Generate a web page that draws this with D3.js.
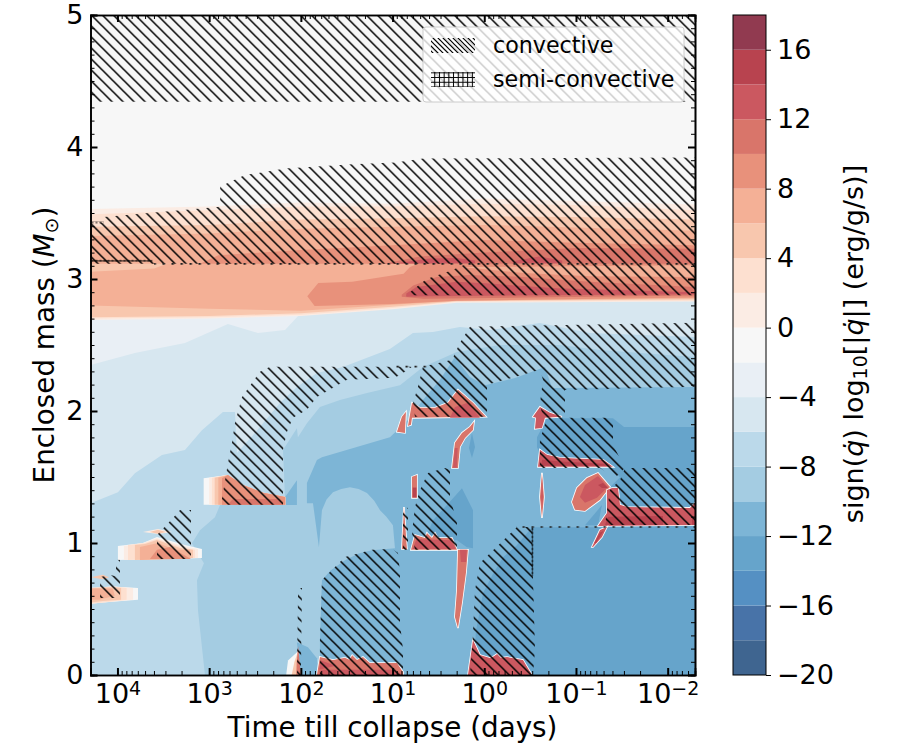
<!DOCTYPE html>
<html>
<head>
<meta charset="utf-8">
<script src="https://d3js.org/d3.v7.min.js"></script>
<style>
body { margin: 0; background: #fff; }
text { font-family: "DejaVu Sans", sans-serif; fill: #000; }
</style>
</head>
<body>
<div id="chart"></div>
<script>
// colour bands: each level is the lower edge of a 2 dex bin
var levels = d3.range(-20, 18, 2);
var bandColors = ["#3f6590", "#4873a8", "#5590c3", "#66a4cb", "#7db5d6", "#a4cce2", "#bbd9ea", "#d7e7f0", "#e9eff5", "#f7f7f7",
                  "#fbece4", "#fde0d0", "#f8c7ae", "#f4b096", "#e8917b", "#d9756a", "#cb5860", "#b8434f", "#913a50"];
var xDecades = [1e4, 1e3, 1e2, 1e1, 1e0, 1e-1, 1e-2];
var yTicks = [0, 1, 2, 3, 4, 5];
var cbarTicks = [-20, -16, -12, -8, -4, 0, 4, 8, 12, 16];
var logMin = 4.294, logMax = -2.298;

// all outlines below are [log10(days), enclosed mass]
var envelope = [
  [-2, [[4.294,2.5],[-2.298,2.5],[-2.298,5],[4.294,5]]],
  [-6, [[4.294,0],[-2.298,0],[-2.298,2.9],[4.294,2.9]]],
  [-4, [[4.294,2.348],[3.81,2.439],[3.264,2.515],[2.795,2.659],[2.468,2.591],[2.173,2.613],[2.03,2.72],[2.03,2.85],[4.294,2.85]]]
];

var coolingBands = [
  [-8, [[4.294,1.302],[3.995,1.385],[3.81,1.529],[3.515,1.666],[3.264,1.704],[3.079,1.855],[2.85,1.992],[2.719,1.992],[2.697,1.681],[2.522,1.817],[2.228,2.06],[2.043,2.181],[1.825,2.287],[1.541,2.333],[1.029,2.469],[0.778,2.591],[0.56,2.598],[0.265,2.636],[-0.062,2.613],[-0.607,2.666],[-1.153,2.59],[-2.298,2.56],[-2.298,0],[4.294,0]]],
  [-10, [[3.046,0],[3.122,0.49],[3.133,0.718],[3.057,0.847],[3.188,0.998],[3.1,1.097],[2.937,1.196],[2.882,1.287],[2.173,1.287],[2.173,1.347],[2.195,1.704],[2.043,1.87],[2.032,1.802],[1.934,1.908],[1.792,2.03],[1.574,2.083],[1.279,2.136],[0.919,2.196],[0.669,2.333],[0.299,2.447],[-0.171,2.5],[-0.825,2.5],[-1.262,2.462],[-2.298,2.409],[-2.298,0]]],
  [-12, [[1.792,0],[1.792,0.263],[1.77,0.718],[1.68,0.79],[1.519,0.87],[1.37,0.92],[1.225,0.946],[0.974,0.961],[0.996,1.135],[1.07,1.2],[1.137,1.249],[1.2,1.32],[1.279,1.378],[1.37,1.41],[1.465,1.423],[1.56,1.41],[1.65,1.385],[1.72,1.33],[1.77,1.249],[1.803,0.968],[1.868,1.302],[1.934,1.302],[1.934,1.454],[1.825,1.628],[1.77,1.65],[1.029,1.802],[0.832,1.931],[0.669,2.083],[0.484,2.234],[0.32,2.409],[0.156,2.257],[-0.008,2.196],[-0.335,2.25],[-0.662,2.333],[-0.739,2.174],[-2.298,2.182],[-2.298,0]]],
  [-12, [[2.043,0.248],[1.923,0.21],[1.825,0.127],[1.813,0],[2.01,0]]],
  [-12, [[2.173,1.347],[2.043,1.476],[2.043,1.287],[2.173,1.287]]],
  [-14, [[0.125,0],[0.09,0.339],[0.05,0.48],[0.014,0.619],[-0.09,0.76],[-0.204,0.892],[-0.35,0.98],[-0.52,1.12],[-2.298,1.12],[-2.298,0]]],
  [-14, [[-0.575,1.802],[-0.684,1.946],[-1.404,1.946],[-1.524,1.878],[-2.298,1.878],[-2.298,1.11],[-1.3,1.11],[-1.338,1.4],[-1.48,1.499],[-1.371,1.567],[-0.607,1.681],[-0.575,1.726]]],
  [-14, [[0.243,1.415],[0.123,1.249],[0.123,0.961],[0.189,0.968],[0.298,1.021],[0.647,1.021],[0.56,1.173],[0.407,1.287]]],
  [-14, [[0.134,1.833],[0.101,1.727],[0.134,1.643],[0.167,1.72]]],
  [-14, [[-1.098,1.135],[-1.283,1.287],[-1.24,1.135]]]
];

var shellBands = [
  [0, [[4.294,3.53],[3,3.55],[2,3.58],[1,3.57],[0,3.61],[-1,3.59],[-2.298,3.565],[-2.298,2.83],[0.3,2.82],[1,2.77],[2,2.72],[3,2.7],[4.294,2.69]]],
  [2, [[4.294,3.49],[3,3.52],[2,3.55],[1,3.55],[0,3.57],[-1,3.56],[-2.298,3.52],[-2.298,2.835],[0.3,2.827],[1,2.78],[2,2.73],[3,2.71],[4.294,2.7]]],
  [4, [[4.294,3.395],[3,3.41],[2,3.45],[1,3.46],[0,3.475],[-1,3.47],[-2.298,3.45],[-2.298,2.845],[0.3,2.832],[1,2.79],[2,2.74],[3,2.72],[4.294,2.71]]],
  [6, [[4.294,3.325],[3,3.345],[2,3.38],[1,3.395],[0,3.41],[-1,3.39],[-2.298,3.365],[-2.298,3.115],[4.294,3.115]]],
  [6, [[4.294,3.055],[3.6,3.08],[3.46,3.115],[-2.298,3.115],[-2.298,2.852],[0.3,2.835],[1,2.805],[2,2.76],[3,2.775],[4.294,2.8]]],
  [8, [[3.1,3.115],[2.9,3.18],[2,3.22],[1,3.255],[0,3.295],[-1,3.275],[-2.298,3.255],[-2.298,3.115]]],
  [8, [[1.93,2.87],[1.81,2.97],[1.44,2.98],[0.97,3.03],[0.88,3.04],[0.81,3.09],[0.72,3.115],[-2.298,3.115],[-2.298,2.86],[0.3,2.835],[1,2.81],[1.85,2.795]]],
  [6, [[0.25,3.09],[-2.298,3.105],[-2.298,3.015],[-1.16,3.02],[-0.43,3.045]]],
  [10, [[1.1,3.115],[0.7,3.17],[0,3.2],[-1,3.235],[-2.298,3.23],[-2.298,3.115]]],
  [12, [[0.95,3.12],[0.6,3.155],[0.3,3.16],[0.1,3.14],[0.1,3.12]]],
  [12, [[-0.3,3.12],[-0.35,3.14],[-0.6,3.17],[-0.85,3.14],[-0.85,3.12]]],
  [10, [[0.9,2.865],[0.9,2.88],[0.775,2.95],[0.52,3.016],[0.156,3.03],[-0.425,3.016],[-1.15,2.98],[-2.298,2.94],[-2.298,2.875],[0.665,2.85]]],
  [12, [[0.85,2.865],[0.85,2.89],[0.74,2.94],[0.3,2.98],[-0.06,2.965],[-0.79,2.93],[-2.298,2.9],[-2.298,2.885],[0.6,2.87]]]
];

// the soft-edged shell flashes on the left side, outer band first
var flashBands = [
  [-2, [[4.294,0.54],[4.294,0.66],[4.05,0.67],[3.776,0.66],[3.776,0.57],[4.158,0.55]]],
  [0, [[4.294,0.54],[4.294,0.66],[4.05,0.67],[3.83,0.66],[3.83,0.57],[4.158,0.55]]],
  [2, [[4.294,0.54],[4.294,0.66],[4.05,0.67],[3.9,0.66],[3.9,0.57],[4.158,0.55]]],
  [4, [[4.294,0.55],[4.294,0.66],[4.05,0.665],[3.96,0.66],[3.96,0.57],[4.158,0.56]]],
  [6, [[4.294,0.57],[4.294,0.655],[4.05,0.655],[4.03,0.6],[4.2,0.57]]],
  [4, [[4.29,0.74],[4.16,0.76],[4.09,0.74],[4.16,0.725]]],
  [-2, [[3.995,0.872],[3.995,0.978],[3.722,1],[3.569,1.046],[3.264,0.985],[3.079,0.955],[3.079,0.887]]],
  [0, [[3.93,0.872],[3.93,0.978],[3.722,1],[3.569,1.038],[3.286,0.978],[3.122,0.955],[3.122,0.887]]],
  [2, [[3.885,0.872],[3.885,0.985],[3.7,1],[3.569,1.03],[3.3,0.97],[3.155,0.948],[3.155,0.887]]],
  [4, [[3.81,0.872],[3.81,0.985],[3.7,0.993],[3.569,1.023],[3.318,0.963],[3.177,0.948],[3.177,0.887]]],
  [6, [[3.755,0.872],[3.755,0.97],[3.558,1],[3.373,0.948],[3.209,0.948],[3.209,0.88]]],
  [8, [[3.646,0.879],[3.569,0.948],[3.427,0.97],[3.198,0.879]]],
  [0, [[3.722,1.084],[3.558,1.107],[3.406,1.084],[3.558,1.069]]],
  [4, [[3.65,1.084],[3.558,1.1],[3.47,1.084],[3.558,1.07]]],
  [-2, [[3.06,1.289],[3.06,1.49],[2.795,1.516],[2.631,1.44],[2.413,1.38],[2.17,1.349],[2.17,1.289]]],
  [0, [[3,1.289],[3,1.495],[2.795,1.516],[2.631,1.44],[2.413,1.38],[2.17,1.349],[2.17,1.289]]],
  [2, [[2.97,1.289],[2.97,1.495],[2.795,1.516],[2.631,1.44],[2.413,1.38],[2.17,1.349],[2.17,1.289]]],
  [4, [[2.94,1.289],[2.94,1.495],[2.795,1.516],[2.631,1.44],[2.413,1.38],[2.17,1.349],[2.17,1.289]]],
  [6, [[2.9,1.289],[2.9,1.495],[2.795,1.516],[2.631,1.44],[2.413,1.38],[2.17,1.349],[2.17,1.289]]],
  [8, [[2.86,1.289],[2.86,1.49],[2.795,1.516],[2.631,1.44],[2.413,1.38],[2.17,1.349],[2.17,1.289]]],
  [10, [[2.8,1.289],[2.74,1.334],[2.23,1.334],[2.2,1.289]]],
  [-2, [[2.16,0],[2.14,0.11],[2.03,0.18],[2,0]]],
  [4, [[2.1,0],[2.07,0.1],[2.03,0.18],[2,0]]],
  [10, [[2.05,0],[2.045,0.1],[2.03,0.22],[2,0]]]
];

// hot pockets that carry a white rim against the blue
var burnRims = [
  [10, [[0.832,1.887],[0.788,2.062],[0.701,2.024],[0.537,2.024],[0.396,2.062],[0.287,2.161],[0.123,2.062],[-0.019,1.956],[0.788,1.948],[0.799,1.895]]],
  [10, [[0.952,1.842],[0.898,1.956],[0.854,1.994],[0.865,1.834]]],
  [10, [[0.352,1.569],[0.32,1.759],[0.243,1.834],[0.156,1.88],[0.112,1.918],[0.123,1.857],[0.21,1.796],[0.265,1.728],[0.287,1.569]]],
  [10, [[0.788,1.501],[0.734,1.516],[0.734,1.342],[0.788,1.342]]],
  [10, [[0.898,0.955],[0.876,1.273],[0.843,0.955]]],
  [10, [[0.799,0.948],[0.756,1.061],[0.647,1.038],[0.625,1.076],[0.57,1.038],[0.537,1.076],[0.505,1.038],[0.352,1.038],[0.298,0.948]]],
  [10, [[0.287,0.948],[0.178,0.948],[0.2,0.773],[0.243,0.546],[0.287,0.356],[0.32,0.44],[0.298,0.644]]],
  [12, [[0.178,0],[0.123,0.265],[0.047,0.152],[-0.062,0.129],[-0.1,0.14],[-0.14,0.159],[-0.18,0.13],[-0.248,0.136],[-0.422,0.114],[-0.52,0]]],
  [10, [[1.825,0],[1.792,0.136],[1.65,0.114],[1.52,0.13],[1.47,0.115],[1.44,0.15],[1.388,0.114],[1.323,0.136],[1.247,0.091],[0.952,0.091],[0.886,0.023],[0.886,0]]],
  [12, [[-0.531,1.956],[-0.607,2.031],[-0.716,1.986],[-0.847,1.956],[-0.662,1.948],[-0.629,1.872],[-0.553,1.865],[-0.564,1.948]]],
  [12, [[-0.586,1.577],[-0.607,1.706],[-0.684,1.668],[-0.826,1.645],[-1.295,1.63],[-1.404,1.577]]],
  [10, [[-0.607,1.349],[-0.629,1.531],[-0.651,1.349],[-0.629,1.19]]],
  [10, [[-0.956,1.311],[-1.01,1.417],[-1.12,1.493],[-1.24,1.531],[-1.371,1.425],[-1.262,1.327],[-1.098,1.243],[-0.989,1.251]]],
  [12, [[-1.24,1.129],[-1.338,1.228],[-1.338,1.402],[-1.393,1.417],[-1.458,1.417],[-1.48,1.289],[-1.556,1.273],[-2.243,1.266],[-2.298,1.304],[-2.298,1.137]]],
  [12, [[-1.175,0.97],[-1.262,1.099],[-1.338,1.122],[-1.283,1.046],[-1.186,0.97]]]
];

var burnCores = [
  [12, [[0.374,1.948],[0.32,2.031],[0.178,2.062],[0.047,1.948]]],
  [12, [[0.34,1.57],[0.32,1.72],[0.29,1.72],[0.3,1.57]]],
  [14, [[0.78,1.42],[0.74,1.42],[0.74,1.345],[0.78,1.345]]],
  [12, [[0.78,0.955],[0.74,1.03],[0.36,1.02],[0.31,0.955]]],
  [12, [[0.265,0.948],[0.19,0.948],[0.2,0.857],[0.255,0.857]]],
  [12, [[1.8,0],[1.78,0.04],[0.98,0.04],[0.89,0]]],
  [12, [[1.8,0.04],[1.78,0.11],[1.62,0.07]]],
  [14, [[-0.62,1.585],[-0.63,1.63],[-0.8,1.62],[-1.3,1.6],[-1.35,1.585]]],
  [12, [[-0.62,1.35],[-0.63,1.5],[-0.64,1.35],[-0.63,1.25]]],
  [12, [[-1.043,1.349],[-1.098,1.44],[-1.24,1.508],[-1.349,1.425],[-1.229,1.342],[-1.098,1.304]]],
  [14, [[-1.24,1.44],[-1.295,1.455],[-1.349,1.417],[-1.283,1.417]]],
  [14, [[-1.316,1.137],[-1.349,1.198],[-1.949,1.205],[-1.949,1.137]]],
  [14, [[-2.265,1.198],[-2.298,1.198],[-2.298,1.137],[-2.265,1.137]]],
  [14, [[-1.2,1],[-1.262,1.08],[-1.3,1.09],[-1.22,1]]]
];

var convective = [
  [[4.294,4.343],[-2.298,4.343],[-2.298,5],[4.294,5]],
  [[4.294,3.115],[4.294,3.42],[4.15,3.43],[4.15,3.47],[2.88,3.547],[2.88,3.7],[2.61,3.787],[2.17,3.837],[1.44,3.87],[0.97,3.883],[0.665,3.913],[-2.298,3.92],[-2.298,3.115]],
  [[0.85,2.877],[0.63,3],[0.375,3.06],[0.19,3.115],[-2.298,3.115],[-2.298,2.877]],
  [[2.871,1.289],[2.795,1.607],[2.751,1.759],[2.719,1.91],[2.642,2.107],[2.446,2.297],[2.337,2.335],[0.788,2.335],[0.865,2.297],[0.974,2.251],[1.497,2.236],[1.825,2.107],[1.934,2.009],[2.086,1.948],[2.151,1.842],[2.195,1.706],[2.195,1.289]],
  [[0.669,2.335],[0.352,2.388],[0.265,2.517],[0.156,2.638],[-2.298,2.668],[-2.298,2.183],[-0.88,2.16],[-0.88,1.948],[-0.64,1.948],[-0.607,2.054],[-0.64,2.236],[-0.607,2.312],[-0.03,2.198],[-0.03,1.956],[0.756,1.956],[0.777,2.062],[0.723,2.183]],
  [[-0.684,1.948],[-1.404,1.948],[-1.404,1.743],[-1.534,1.569],[-1.425,1.493],[-1.262,1.569],[-0.607,1.569],[-0.607,1.781]],
  [[-1.534,1.569],[-2.298,1.569],[-2.298,1.137],[-1.316,1.137],[-1.371,1.402],[-1.48,1.478]],
  [[0.614,1.531],[0.429,1.569],[0.374,1.554],[0.374,1.349],[0.298,1.152],[0.298,0.948],[0.756,0.948],[0.788,1.076],[0.756,1.273],[0.701,1.402]],
  [[0.886,1.266],[0.832,1.266],[0.832,0.948],[0.886,0.948]],
  [[1.792,0],[1.792,0.265],[1.77,0.72],[1.519,0.894],[1.225,0.948],[1.007,0.955],[0.941,0.925],[0.919,0.773],[0.919,0.394],[0.886,0.19],[0.886,0]],
  [[0.156,0],[0.123,0.318],[0.101,0.644],[0.047,0.849],[-0.357,1.122],[-0.52,1.122],[-0.52,1.023],[-0.553,0.19],[-0.531,0]],
  [[2.03,0.659],[1.988,0.659],[2,0],[2.043,0]],
  [[3.569,1.061],[3.395,1.19],[3.318,1.25],[3.198,1.25],[3.198,0.879],[3.569,0.879]],
  [[4.19,0.743],[4.082,0.758],[3.973,0.743],[3.973,0.584],[4.19,0.584]],
  [[4.016,0.872],[3.973,0.872],[3.973,0.75],[4.016,0.75]]
];

// thin semi-convective layers: solid grid where wide enough, dashes where only a sliver
var semiConvective = [
  [[4.294,3.13],[3.62,3.13],[3.62,3.145],[4.294,3.145]],
  [[4.294,3.42],[4.15,3.42],[4.15,3.435],[4.294,3.435]],
  [[-0.515,1.12],[-0.535,1.12],[-0.535,0.75],[-0.515,0.75]]
];
var semiSlivers = [
  [[3.6,3.108],[-2.298,3.108],[-2.298,3.122],[3.6,3.122]],
  [[-0.35,1.115],[-2.298,1.115],[-2.298,1.127],[-0.35,1.127]],
  [[1,2.33],[0.6,2.33],[0.6,2.342],[1,2.342]]
];

var margin = {top: 15, left: 90.5},
    width = 604.5,
    height = 660;

var svg = d3.select("#chart")
    .append("svg")
    .attr("width", 900)
    .attr("height", 750);

var defs = svg.append("defs");

function hatchPattern(id, size, strokeW, dx) {
    var p = defs.append("pattern")
        .attr("id", id)
        .attr("patternUnits", "userSpaceOnUse")
        .attr("width", size).attr("height", size)
        .attr("patternTransform", "translate(" + dx + ",0)");
    p.append("path")
        .attr("d", "M-2,-2L" + (size + 2) + "," + (size + 2) + "M" + (size - 2) + ",-2L" + (size + 2) + ",2M-2," + (size - 2) + "L2," + (size + 2))
        .attr("stroke", "#000").attr("stroke-width", strokeW).attr("fill", "none");
}
hatchPattern("hatchConv", 11, 1.5, 0.8);
hatchPattern("hatchLegend", 5, 1.2, 0);

function gridPattern(id, size, strokeW) {
    var p = defs.append("pattern")
        .attr("id", id)
        .attr("patternUnits", "userSpaceOnUse")
        .attr("width", size).attr("height", size);
    p.append("path")
        .attr("d", "M0," + size / 2 + "H" + size + "M" + size / 2 + ",0V" + size)
        .attr("stroke", "#000").attr("stroke-width", strokeW).attr("fill", "none");
}
gridPattern("hatchSemi", 4, 1);
gridPattern("hatchSemiKey", 4.7, 1);

var dashes = defs.append("pattern")
    .attr("id", "hatchDash")
    .attr("patternUnits", "userSpaceOnUse")
    .attr("width", 9).attr("height", 9);
dashes.append("rect").attr("width", 2.4).attr("height", 9).attr("fill", "#222");

var g = svg.append("g").attr("transform", "translate(" + margin.left + "," + margin.top + ")");

var xScale = d3.scaleLog()
    .domain([Math.pow(10, logMin), Math.pow(10, logMax)])
    .range([0, width]);
var yScale = d3.scaleLinear()
    .domain([0, 5])
    .range([height, 0]);
var color = d3.scaleOrdinal(levels, bandColors);

var outline = d3.line()
    .x(function(d) { return xScale(Math.pow(10, d[0])); })
    .y(function(d) { return yScale(d[1]); })
    .curve(d3.curveLinearClosed);

function drawBands(rows, rim) {
    g.append("g").selectAll("path")
        .data(rows)
        .enter()
        .append("path")
        .attr("d", function(d) { return outline(d[1]); })
        .attr("fill", function(d) { return color(d[0]); })
        .attr("stroke", rim ? "#fff" : "none")
        .attr("stroke-width", rim ? 1.6 : 0)
        .attr("paint-order", "stroke");
}
drawBands(envelope, false);
drawBands(coolingBands, false);
drawBands(shellBands, false);
drawBands(flashBands, false);
drawBands(burnRims, true);
drawBands(burnCores, false);

function drawHatch(rows, fill) {
    g.append("g").selectAll("path")
        .data(rows)
        .enter()
        .append("path")
        .attr("d", outline)
        .attr("fill", fill);
}
drawHatch(convective, "url(#hatchConv)");
drawHatch(semiConvective, "url(#hatchSemi)");
drawHatch(semiSlivers, "url(#hatchDash)");

// axes, ticks point inward on all four sides
var xMinor = [];
xDecades.concat([1e-3]).forEach(function(dec) {
    d3.range(2, 10).forEach(function(k) {
        var v = dec * k;
        if (v < Math.pow(10, logMin) && v > Math.pow(10, logMax)) xMinor.push(v);
    });
});
var yMinor = d3.range(0, 5.01, 0.1);

function styleAxis(sel, w) {
    sel.selectAll(".tick line").attr("stroke", "#000").attr("stroke-width", w);
    sel.selectAll(".domain").attr("stroke", "#000").attr("stroke-width", 1.6);
}

var xBottom = g.append("g").attr("transform", "translate(0," + height + ")")
    .call(d3.axisBottom(xScale).tickValues(xDecades).tickSize(-7).tickPadding(9).tickFormat(""));
styleAxis(xBottom, 2);
xBottom.selectAll(".tick text")
    .data(xDecades)
    .attr("font-size", 27)
    .attr("text-anchor", "middle")
    .each(function(d) {
        var t = d3.select(this);
        t.append("tspan").text("10");
        t.append("tspan").attr("dy", "-0.42em").attr("font-size", 19).text(Math.round(Math.log10(d)).toString().replace("-", "\u2212"));
    });
styleAxis(g.append("g").attr("transform", "translate(0," + height + ")")
    .call(d3.axisBottom(xScale).tickValues(xMinor).tickSize(-4).tickFormat("")), 1);
styleAxis(g.append("g")
    .call(d3.axisTop(xScale).tickValues(xDecades).tickSize(-7).tickFormat("")), 2);
styleAxis(g.append("g")
    .call(d3.axisTop(xScale).tickValues(xMinor).tickSize(-4).tickFormat("")), 1);

var yLeft = g.append("g")
    .call(d3.axisLeft(yScale).tickValues(yTicks).tickSize(-7).tickPadding(7).tickFormat(d3.format("d")));
styleAxis(yLeft, 2);
yLeft.selectAll(".tick text").attr("font-size", 27);
styleAxis(g.append("g")
    .call(d3.axisLeft(yScale).tickValues(yMinor).tickSize(-4).tickFormat("")), 1);
styleAxis(g.append("g").attr("transform", "translate(" + width + ",0)")
    .call(d3.axisRight(yScale).tickValues(yTicks).tickSize(-7).tickFormat("")), 2);
styleAxis(g.append("g").attr("transform", "translate(" + width + ",0)")
    .call(d3.axisRight(yScale).tickValues(yMinor).tickSize(-4).tickFormat("")), 1);

svg.append("text")
    .attr("x", 392.5).attr("y", 737)
    .attr("text-anchor", "middle").attr("font-size", 27.8)
    .text("Time till collapse (days)");

var yTitle = svg.append("text")
    .attr("transform", "translate(54,345) rotate(-90)")
    .attr("text-anchor", "middle").attr("font-size", 27.8);
yTitle.append("tspan").text("Enclosed mass (");
yTitle.append("tspan").attr("font-style", "italic").text("M");
yTitle.append("tspan").attr("font-size", 19).attr("dy", 4).text("\u2299");
yTitle.append("tspan").attr("dy", -4).text(")");

// legend
var legend = svg.append("g");
legend.append("rect")
    .attr("x", 423).attr("y", 27).attr("width", 261).attr("height", 75).attr("rx", 3)
    .attr("fill", "#fff").attr("fill-opacity", 0.8).attr("stroke", "#ccc").attr("stroke-width", 1);
var legendRows = [["convective", "url(#hatchLegend)"], ["semi-convective", "url(#hatchSemiKey)"]];
legend.selectAll("rect.key")
    .data(legendRows)
    .enter()
    .append("rect")
    .attr("class", "key")
    .attr("x", 431).attr("width", 44).attr("height", 15)
    .attr("y", function(d, i) { return 38 + i * 34; })
    .attr("fill", function(d) { return d[1]; });
legend.selectAll("text")
    .data(legendRows)
    .enter()
    .append("text")
    .attr("x", 493)
    .attr("y", function(d, i) { return 53 + i * 34; })
    .attr("font-size", 22.2)
    .text(function(d) { return d[0]; });

// colour bar
var cbarScale = d3.scaleLinear().domain([-20, 18]).range([675, 15]);
var cbar = svg.append("g");
cbar.selectAll("rect")
    .data(levels)
    .enter()
    .append("rect")
    .attr("x", 733).attr("width", 33)
    .attr("y", function(d) { return cbarScale(d + 2); })
    .attr("height", function(d) { return cbarScale(d) - cbarScale(d + 2); })
    .attr("fill", function(d) { return color(d); });
var cbarAxis = svg.append("g").attr("transform", "translate(766,0)")
    .call(d3.axisRight(cbarScale).tickValues(cbarTicks).tickSize(5).tickPadding(6).tickFormat(d3.format("d")));
cbarAxis.selectAll(".tick line").attr("stroke", "#000").attr("stroke-width", 1);
cbarAxis.selectAll(".tick text").attr("font-size", 27);
cbarAxis.select(".domain").remove();
svg.append("rect")
    .attr("x", 733).attr("y", 15).attr("width", 33).attr("height", 660)
    .attr("fill", "none").attr("stroke", "#000").attr("stroke-width", 1);

var cbTitle = svg.append("text")
    .attr("transform", "translate(863,344) rotate(-90)")
    .attr("text-anchor", "middle").attr("font-size", 27);
cbTitle.append("tspan").text("sign(");
cbTitle.append("tspan").attr("font-style", "italic").text("q\u0307");
cbTitle.append("tspan").text(") log");
cbTitle.append("tspan").attr("font-size", 19).attr("dy", 4).text("10");
cbTitle.append("tspan").attr("dy", -4).text("[|");
cbTitle.append("tspan").attr("font-style", "italic").text("q\u0307");
cbTitle.append("tspan").text("|] (erg/g/s)]");
</script>
</body>
</html>
